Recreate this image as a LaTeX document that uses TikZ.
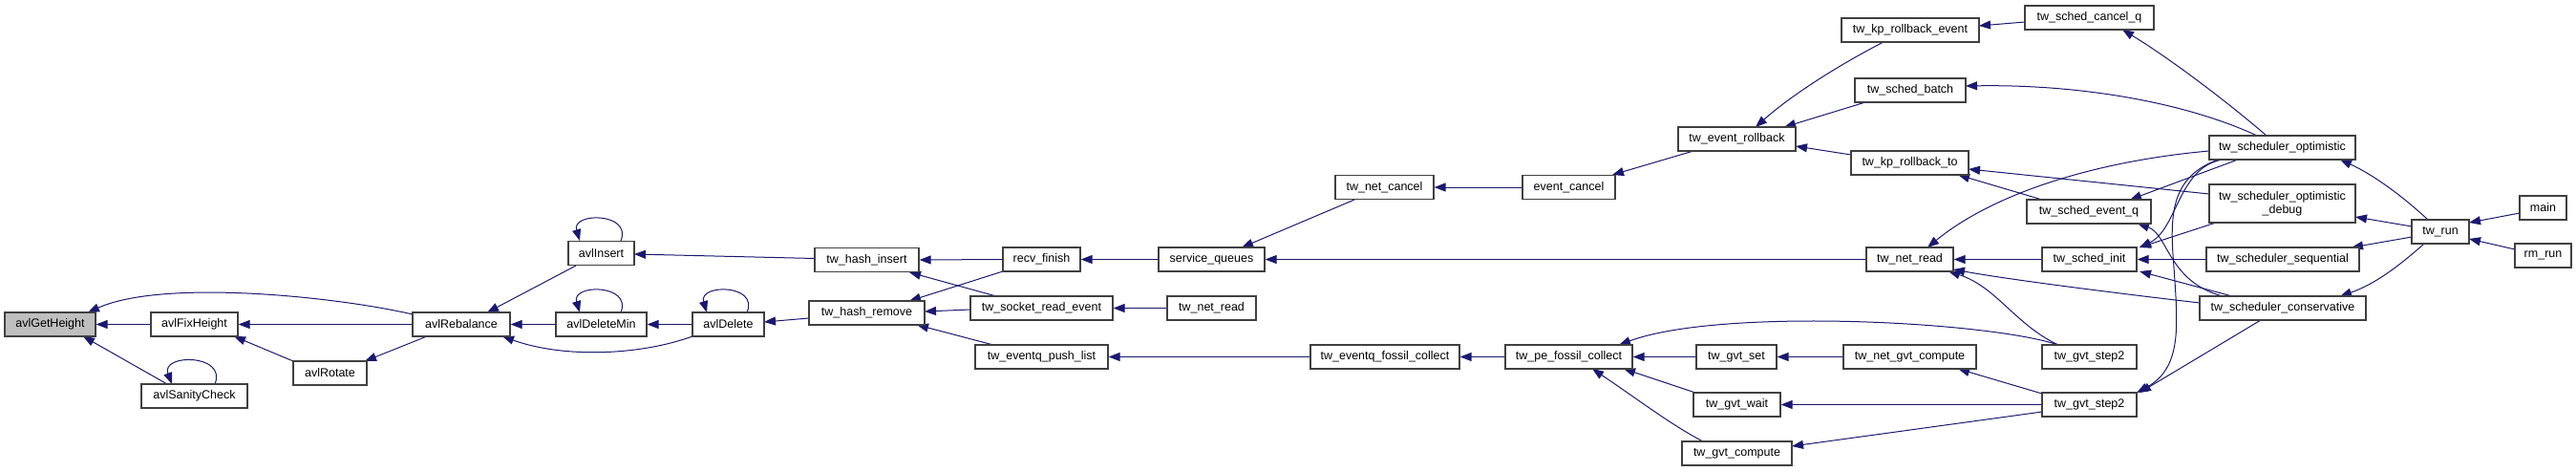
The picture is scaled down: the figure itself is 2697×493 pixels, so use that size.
\documentclass[tikz,border=0pt]{standalone}
\usepackage{fontspec}
\setmainfont{Liberation Sans}
\usetikzlibrary{arrows.meta}
\definecolor{edgeblue}{HTML}{191970}
\definecolor{boxline}{HTML}{404040}
\definecolor{hilite}{HTML}{BFBFBF}
\pgfdeclarelayer{edgelayer}
\pgfsetlayers{edgelayer,main}
\begin{document}
\begin{tikzpicture}[x=1pt,y=-1pt,
  fn/.style={draw=boxline, line width=1.2pt, fill=white, minimum height=25pt, inner xsep=1pt, inner ysep=0pt,
    font=\fontsize{12.5}{14}\selectfont, align=center},
  e/.style={draw=edgeblue, line width=1pt, -{Triangle[length=12pt,width=9pt]}}]
\useasboundingbox (0,0) rectangle (2697,493);

% nodes
\node[fn, fill=hilite, minimum width=95pt] (gh) at (52.5,339.5) {avlGetHeight};
\node[fn, minimum width=91pt] (fh) at (203.5,339.5) {avlFixHeight};
\node[fn, minimum width=111pt] (sc) at (203.5,414.5) {avlSanityCheck};
\node[fn, minimum width=77pt] (rot) at (345.5,390.5) {avlRotate};
\node[fn, minimum width=102pt] (reb) at (483,339.5) {avlRebalance};
\node[fn, minimum width=69pt] (ins) at (629.5,265) {avlInsert};
\node[fn, minimum width=95pt] (dmin) at (629.5,339.5) {avlDeleteMin};
\node[fn, minimum width=75pt] (del) at (762.5,339.5) {avlDelete};
\node[fn, minimum width=109pt] (hi) at (907.5,272) {tw\_hash\_insert};
\node[fn, minimum width=121pt] (hr) at (907.5,327.5) {tw\_hash\_remove};
\node[fn, minimum width=81pt] (rf) at (1090.5,271.5) {recv\_finish};
\node[fn, minimum width=149pt] (sre) at (1090.5,322.5) {tw\_socket\_read\_event};
\node[fn, minimum width=139pt] (epl) at (1090.5,373.5) {tw\_eventq\_push\_list};
\node[fn, minimum width=111pt] (sq) at (1268.5,271.5) {service\_queues};
\node[fn, minimum width=93pt] (nra) at (1268.5,322.5) {tw\_net\_read};
\node[fn, minimum width=156pt] (efc) at (1450,373.5) {tw\_eventq\_fossil\_collect};
\node[fn, minimum width=103pt] (nc) at (1449.5,196) {tw\_net\_cancel};
\node[fn, minimum width=97pt] (ec) at (1642.5,196) {event\_cancel};
\node[fn, minimum width=133pt] (pfc) at (1642.5,373.5) {tw\_pe\_fossil\_collect};
\node[fn, minimum width=123pt] (er) at (1818.5,145.5) {tw\_event\_rollback};
\node[fn, minimum width=84pt] (gs) at (1818,373.5) {tw\_gvt\_set};
\node[fn, minimum width=91pt] (gw) at (1818.5,423.5) {tw\_gvt\_wait};
\node[fn, minimum width=115pt] (gc) at (1818.5,474.5) {tw\_gvt\_compute};
\node[fn, minimum width=144pt] (kre) at (2000,31.5) {tw\_kp\_rollback\_event};
\node[fn, minimum width=116pt] (sb) at (2000,94.5) {tw\_sched\_batch};
\node[fn, minimum width=123pt] (krt) at (1999.5,170.5) {tw\_kp\_rollback\_to};
\node[fn, minimum width=91pt] (nrb) at (1999.5,271.5) {tw\_net\_read};
\node[fn, minimum width=139pt] (ngc) at (1999.5,373.5) {tw\_net\_gvt\_compute};
\node[fn, minimum width=135pt] (scq) at (2187.5,18.5) {tw\_sched\_cancel\_q};
\node[fn, minimum width=130pt] (seq) at (2187,221.5) {tw\_sched\_event\_q};
\node[fn, minimum width=99pt] (si) at (2187.5,271.5) {tw\_sched\_init};
\node[fn, minimum width=99pt] (g2a) at (2187.5,373.5) {tw\_gvt\_step2};
\node[fn, minimum width=99pt] (g2b) at (2187.5,423.5) {tw\_gvt\_step2};
\node[fn, minimum width=153pt] (so) at (2389.5,154.5) {tw\_scheduler\_optimistic};
\node[fn, minimum width=153pt, minimum height=40pt] (sod) at (2389.5,213) {tw\_scheduler\_optimistic\\\_debug};
\node[fn, minimum width=160pt] (ss) at (2390,271.5) {tw\_scheduler\_sequential};
\node[fn, minimum width=174pt] (scons) at (2390,322.5) {tw\_scheduler\_conservative};
\node[fn, minimum width=60pt] (run) at (2555,242.5) {tw\_run};
\node[fn, minimum width=49pt] (mn) at (2662.5,217.5) {main};
\node[fn, minimum width=59pt] (rm) at (2662.5,267.5) {rm\_run};

% edges
\begin{pgfonlayer}{edgelayer}
\draw[e] (fh.west) -- (gh.east);
\draw[e] ([shift={(-51,-10.5)}]reb.center) .. controls (350,310) and (170,292) .. ([shift={(39.5,-12.5)}]gh.center);
\draw[e] ([shift={(-28.5,-12.5)}]sc.center) -- ([shift={(34.5,12.5)}]gh.center);
\draw[e] ([shift={(21.5,-12.5)}]sc.center) .. controls (238,370) and (168,370) .. ([shift={(-23.5,-12.5)}]sc.center);
\draw[e] (reb.west) -- (fh.east);
\draw[e] ([shift={(-38.5,-12.5)}]rot.center) -- ([shift={(41.5,12.5)}]fh.center);
\draw[e] ([shift={(-36,12.5)}]reb.center) -- ([shift={(36.5,-12.5)}]rot.center);
\draw[e] ([shift={(-26.5,13)}]ins.center) -- ([shift={(27,-12.5)}]reb.center);
\draw[e] (dmin.west) -- (reb.east);
\draw[e] ([shift={(-37.5,12.5)}]del.center) .. controls (670,372) and (590,375) .. ([shift={(43,12.5)}]reb.center);
\draw[e] ([shift={(20.5,-13)}]ins.center) .. controls (662,222) and (598,222) .. ([shift={(-22.5,-13)}]ins.center);
\draw[e] ([shift={(20.5,-12.5)}]dmin.center) .. controls (662,297) and (598,297) .. ([shift={(-22.5,-12.5)}]dmin.center);
\draw[e] ([shift={(19.5,-12.5)}]del.center) .. controls (795,297) and (731,297) .. ([shift={(-22.5,-12.5)}]del.center);
\draw[e] (del.west) -- (dmin.east);
\draw[e] ([shift={(-54.5,-1.5)}]hi.center) -- ([shift={(34.5,1)}]ins.center);
\draw[e] ([shift={(-60.5,5.5)}]hr.center) -- ([shift={(37.5,-2.5)}]del.center);
\draw[e] (rf.west) -- (hi.east);
\draw[e] ([shift={(-47.5,-12.5)}]sre.center) -- ([shift={(44.5,13)}]hi.center);
\draw[e] ([shift={(-40.5,12.5)}]rf.center) -- ([shift={(44.5,-12.5)}]hr.center);
\draw[e] ([shift={(-74.5,1.5)}]sre.center) -- ([shift={(60.5,-1.5)}]hr.center);
\draw[e] ([shift={(-50.5,-12.5)}]epl.center) -- ([shift={(52.5,12.5)}]hr.center);
\draw[e] (sq.west) -- (rf.east);
\draw[e] (nra.west) -- (sre.east);
\draw[e] (efc.west) -- (epl.east);
\draw[e] ([shift={(-31.5,13)}]nc.center) -- ([shift={(31.5,-12.5)}]sq.center);
\draw[e] (nrb.west) -- (sq.east);
\draw[e] (ec.west) -- (nc.east);
\draw[e] ([shift={(-45.5,12.5)}]er.center) -- ([shift={(45.5,-13)}]ec.center);
\draw[e] (pfc.west) -- (efc.east);
\draw[e] (gs.west) -- (pfc.east);
\draw[e] ([shift={(-43.5,-12.5)}]gw.center) -- ([shift={(57.5,12.5)}]pfc.center);
\draw[e] ([shift={(-35.5,-12.5)}]gc.center) .. controls (1750,445) and (1715,418) .. ([shift={(24.5,12.5)}]pfc.center);
\draw[e] ([shift={(-32.5,-12.5)}]g2a.center) .. controls (2080,336) and (1800,322) .. ([shift={(52.5,-12.5)}]pfc.center);
\draw[e] ([shift={(-28,12.5)}]kre.center) .. controls (1925,68) and (1875,100) .. ([shift={(19.5,-12.5)}]er.center);
\draw[e] ([shift={(-47,12.5)}]sb.center) -- ([shift={(49.5,-12.5)}]er.center);
\draw[e] ([shift={(-61.5,-8.5)}]krt.center) -- ([shift={(61.5,7.5)}]er.center);
\draw[e] ([shift={(-67.5,4.5)}]scq.center) -- ([shift={(72,-4.5)}]kre.center);
\draw[e] ([shift={(-26.5,-12.5)}]so.center) .. controls (2290,108) and (2180,88) .. ([shift={(58,-4.5)}]sb.center);
\draw[e] ([shift={(-76.5,-10)}]sod.center) -- ([shift={(61.5,6.5)}]krt.center);
\draw[e] ([shift={(-49,-12.5)}]seq.center) -- ([shift={(50.5,12.5)}]krt.center);
\draw[e] ([shift={(-16.5,-12.5)}]so.center) .. controls (2330,105) and (2270,60) .. ([shift={(34.5,12.5)}]scq.center);
\draw[e] ([shift={(-76.5,3.5)}]so.center) .. controls (2200,168) and (2090,200) .. ([shift={(18.5,-12.5)}]nrb.center);
\draw[e] ([shift={(-46.5,12.5)}]so.center) -- ([shift={(43,-12.5)}]seq.center);
\draw[e] ([shift={(-62.5,12.5)}]so.center) .. controls (2280,175) and (2280,240) .. ([shift={(52.5,-12.5)}]si.center);
\draw[e] ([shift={(-69.5,20)}]sod.center) -- ([shift={(52.5,-12.5)}]si.center);
\draw[e] (ss.west) -- (si.east);
\draw[e] ([shift={(-53,-12.5)}]scons.center) -- ([shift={(52.5,12.5)}]si.center);
\draw[e] ([shift={(-63,-12.5)}]scons.center) .. controls (2270,295) and (2270,245) .. ([shift={(51,12.5)}]seq.center);
\draw[e] (si.west) -- (nrb.east);
\draw[e] ([shift={(-87,-5.5)}]scons.center) .. controls (2200,305) and (2100,292) .. ([shift={(45.5,10.5)}]nrb.center);
\draw[e] ([shift={(-32.5,-12.5)}]g2a.center) .. controls (2110,340) and (2090,300) .. ([shift={(40.5,12.5)}]nrb.center);
\draw[e] ([shift={(-23,12.5)}]scons.center) -- ([shift={(52.5,-12.5)}]g2b.center);
\draw[e] ([shift={(-66.5,12.5)}]so.center) .. controls (2270,185) and (2272,230) .. (2276,280) .. controls (2280,340) and (2285,385) .. ([shift={(49.5,-12.5)}]g2b.center);
\draw[e] (ngc.west) -- (gs.east);
\draw[e] ([shift={(-49.5,-11.5)}]g2b.center) -- ([shift={(50.5,12.5)}]ngc.center);
\draw[e] (g2b.west) -- (gw.east);
\draw[e] ([shift={(-49.5,7.5)}]g2b.center) -- ([shift={(57.5,-7.5)}]gc.center);
\draw[e] ([shift={(-13,-12.5)}]run.center) .. controls (2515,205) and (2485,183) .. ([shift={(60.5,12.5)}]so.center);
\draw[e] ([shift={(-30,-5.5)}]run.center) -- ([shift={(76.5,14)}]sod.center);
\draw[e] ([shift={(-30,5.5)}]run.center) -- ([shift={(72,-12.5)}]ss.center);
\draw[e] ([shift={(-17,12.5)}]run.center) .. controls (2510,280) and (2485,298) .. ([shift={(60,-12.5)}]scons.center);
\draw[e] ([shift={(-24.5,5.5)}]mn.center) -- ([shift={(30,-9.5)}]run.center);
\draw[e] ([shift={(-29.5,-6.5)}]rm.center) -- ([shift={(30,7.5)}]run.center);
\end{pgfonlayer}
\end{tikzpicture}
\end{document}
